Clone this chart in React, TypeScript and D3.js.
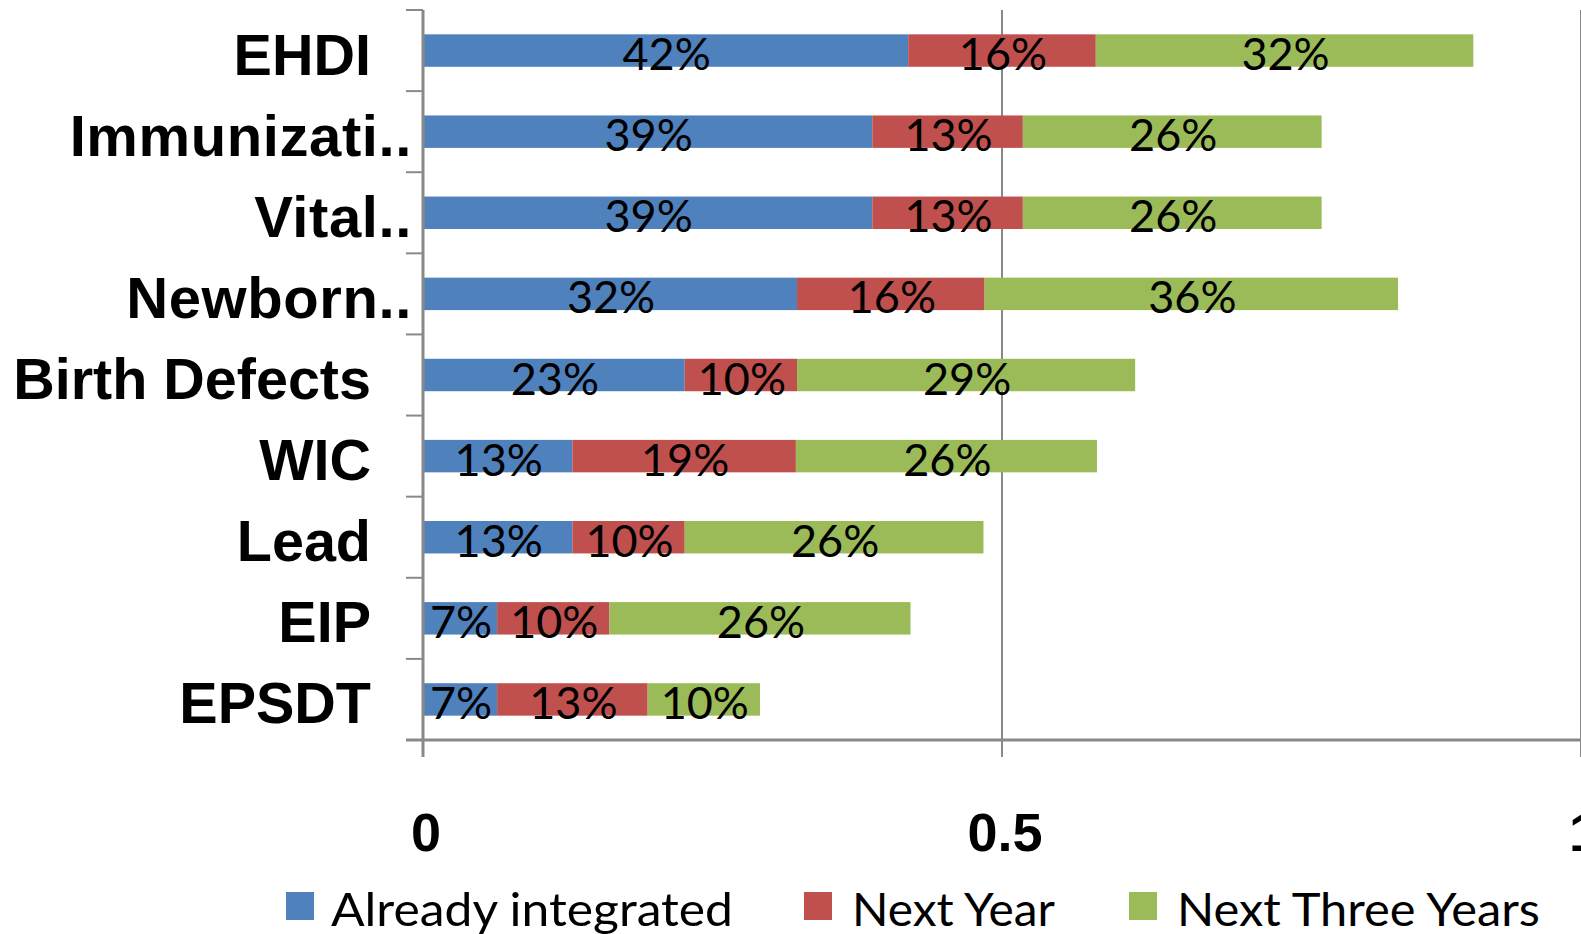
import React from "react";
import * as d3 from "d3";

const categories = ["EHDI", "Immunizati..", "Vital..", "Newborn..", "Birth Defects", "WIC", "Lead", "EIP", "EPSDT"];
const alreadyIntegrated = [0.419, 0.388, 0.388, 0.323, 0.226, 0.129, 0.129, 0.064, 0.064];
const nextYear = [0.162, 0.13, 0.13, 0.162, 0.097, 0.193, 0.097, 0.097, 0.13];
const nextThreeYears = [0.326, 0.258, 0.258, 0.357, 0.292, 0.26, 0.258, 0.26, 0.097];
const alreadyLabels = ["42%", "39%", "39%", "32%", "23%", "13%", "13%", "7%", "7%"];
const nextYearLabels = ["16%", "13%", "13%", "16%", "10%", "19%", "10%", "10%", "13%"];
const nextThreeLabels = ["32%", "26%", "26%", "36%", "29%", "26%", "26%", "26%", "10%"];
const seriesNames = ["Already integrated", "Next Year", "Next Three Years"];
const seriesColors = ["#4F81BD", "#C0504D", "#9BBB59"];
const xTicks = [0, 0.5, 1];
const xTickLabels = ["0", "0.5", "1"];

const W = 1581;
const H = 934;
const LEFT = 423;
const RIGHT = 1581;
const TOP = 10;
const BOTTOM = 740;
const AXIS = "#898989";

export default function App() {
  const x = d3.scaleLinear().domain([0, 1]).range([LEFT, RIGHT]);
  const y = d3.scaleBand<string>().domain(categories).range([TOP, BOTTOM]).paddingInner(0.6).paddingOuter(0.3);
  const rows = categories.map((c, i) => ({ c, a: alreadyIntegrated[i], n: nextYear[i], t: nextThreeYears[i] }));
  const stack = d3.stack<any>().keys(["a", "n", "t"])(rows);
  const labelSets = [alreadyLabels, nextYearLabels, nextThreeLabels];
  const step = y.step();
  const catTicks = d3.range(categories.length + 1).map((i) => TOP + i * step);
  const legendSw = [286, 804, 1129];
  const legendTx = [331, 852, 1177];
  const legendW = [402, 203, 363];

  return (
    <svg width={W} height={H} style={{ position: "absolute", left: 0, top: 0, background: "#fff" }}>
      {xTicks.slice(1).map((t) => (
        <line key={"g" + t} x1={x(t)} x2={x(t)} y1={TOP} y2={BOTTOM + 17} stroke={AXIS} strokeWidth={2} />
      ))}
      {stack.map((layer, si) =>
        layer.map((d, i) => {
          const x0 = x(d[0]);
          const x1 = x(d[1]);
          const yy = y(categories[i])!;
          return <rect key={si + "-" + i} x={x0} y={yy} width={x1 - x0} height={y.bandwidth()} fill={seriesColors[si]} />;
        })
      )}
      {stack.map((layer, si) =>
        layer.map((d, i) => {
          const x0 = x(d[0]);
          const x1 = x(d[1]);
          const yy = y(categories[i])! + y.bandwidth() / 2;
          return (
            <text
              key={"l" + si + "-" + i}
              x={(x0 + x1) / 2 + 1}
              y={yy + 19.5}
              textAnchor="middle"
              fontFamily="Lato, 'Open Sans', sans-serif"
              fontSize={45}
              fill="#000"
            >
              {labelSets[si][i]}
            </text>
          );
        })
      )}
      <line x1={LEFT} x2={LEFT} y1={TOP} y2={BOTTOM + 17} stroke={AXIS} strokeWidth={3} />
      {catTicks.map((t, i) => (
        <line key={"ct" + i} x1={LEFT - 17} x2={LEFT} y1={t} y2={t} stroke={AXIS} strokeWidth={2} />
      ))}
      <line x1={LEFT - 17} x2={W} y1={BOTTOM} y2={BOTTOM} stroke={AXIS} strokeWidth={3} />
      {categories.map((c) => {
        const cy = y(c)! + y.bandwidth() / 2;
        const trunc = c.endsWith("..");
        return (
          <text
            key={"c" + c}
            x={trunc ? 412 : 371}
            y={cy + 24}
            textAnchor="end"
            fontFamily="'Liberation Sans', Arial, sans-serif"
            fontWeight="bold"
            fontSize={trunc ? 58 : 57.5}
            letterSpacing={trunc ? 0.6 : 0}
            fill="#000"
          >
            {c}
          </text>
        );
      })}
      {xTicks.map((t, i) => (
        <text
          key={"xt" + t}
          x={x(t) + 3}
          y={851}
          textAnchor="middle"
          fontFamily="'Liberation Sans', Arial, sans-serif"
          fontWeight="bold"
          fontSize={54}
          fill="#000"
        >
          {xTickLabels[i]}
        </text>
      ))}
      {seriesNames.map((s, i) => (
        <g key={"lg" + s}>
          <rect x={legendSw[i]} y={892} width={28} height={28} fill={seriesColors[i]} />
          <text
            x={legendTx[i]}
            y={926}
            fontFamily="Lato, 'Open Sans', sans-serif"
            fontSize={47}
            textLength={legendW[i]}
            lengthAdjust="spacingAndGlyphs"
            fill="#000"
          >
            {s}
          </text>
        </g>
      ))}
    </svg>
  );
}
